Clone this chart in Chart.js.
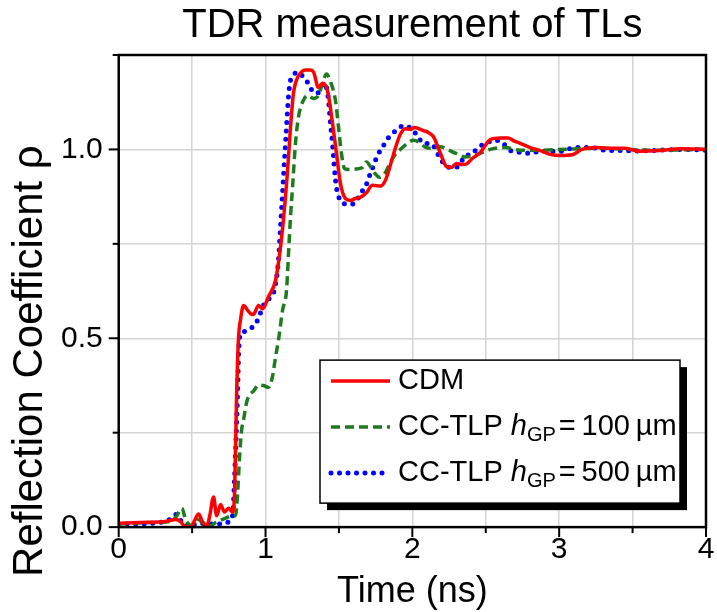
<!DOCTYPE html>
<html>
<head>
<meta charset="utf-8">
<script src="https://cdn.jsdelivr.net/npm/chart.js@4.4.1/dist/chart.umd.min.js"></script>
<style>
  html, body { margin: 0; padding: 0; background: #fff; }
  #wrap { width: 717px; height: 612px; }
</style>
</head>
<body>
<div id="wrap"><canvas id="chart" width="717" height="612"></canvas></div>
<script>
// ===================== DATA =====================
const seriesNames = ["CDM", "CC-TLP", "CC-TLP"];
const seriesSub = [null, "100", "500"];

const cdmTime = [0, 0.15, 0.32, 0.39, 0.42, 0.45, 0.49, 0.52, 0.544, 0.57, 0.6, 0.62, 0.646, 0.667, 0.694, 0.72, 0.748, 0.776,
  0.79, 0.803, 0.816, 0.83, 0.85, 0.878, 0.898, 0.918, 0.952, 0.98, 1.02, 1.068, 1.095, 1.116, 1.15, 1.17, 1.19, 1.218,
  1.245, 1.272, 1.306, 1.327, 1.36, 1.388, 1.422, 1.456, 1.483, 1.51, 1.544, 1.578, 1.612, 1.646, 1.687, 1.728, 1.782,
  1.816, 1.85, 1.884, 1.918, 1.952, 1.986, 2.014, 2.075, 2.109, 2.143, 2.17, 2.197, 2.231, 2.265, 2.3, 2.34, 2.374,
  2.408, 2.463, 2.531, 2.599, 2.653, 2.694, 2.735, 2.803, 2.871, 2.939, 3.007, 3.088, 3.156, 3.259, 3.361, 3.449,
  3.551, 3.687, 3.823, 4.0];
const cdmRho = [0.01, 0.012, 0.015, 0.02, 0.015, 0.002, 0.0, 0.02, 0.035, 0.015, 0.003, 0.03, 0.08, 0.03, 0.06, 0.04, 0.05, 0.04,
  0.1, 0.35, 0.5, 0.55, 0.587, 0.574, 0.565, 0.563, 0.587, 0.578, 0.61, 0.653, 0.72, 0.79, 0.944, 1.058, 1.148, 1.19,
  1.205, 1.21, 1.21, 1.205, 1.164, 1.175, 1.156, 1.07, 0.99, 0.91, 0.87, 0.865, 0.87, 0.873, 0.885, 0.905, 0.903,
  0.918, 0.958, 1.003, 1.04, 1.055, 1.053, 1.058, 1.05, 1.045, 1.034, 1.011, 0.984, 0.955, 0.952, 0.963, 0.96, 0.963,
  0.976, 0.992, 1.026, 1.03, 1.03, 1.022, 1.016, 1.005, 0.997, 0.987, 0.984, 0.986, 1.0, 1.005, 1.003, 1.003,
  0.995, 0.997, 1.002, 1.0];

const tlp100Time = [0, 0.218, 0.354, 0.395, 0.43, 0.456, 0.49, 0.524, 0.544, 0.578, 0.612, 0.66, 0.728, 0.776, 0.796, 0.81,
  0.823, 0.837, 0.85, 0.871, 0.891, 0.918, 0.952, 0.986, 1.02, 1.048, 1.068, 1.088, 1.116, 1.143, 1.156, 1.17, 1.184,
  1.204, 1.224, 1.252, 1.286, 1.327, 1.36, 1.388, 1.415, 1.442, 1.476, 1.497, 1.517, 1.537, 1.565, 1.612, 1.66, 1.687,
  1.714, 1.748, 1.776, 1.81, 1.844, 1.878, 1.918, 1.966, 2.007, 2.041, 2.088, 2.136, 2.19, 2.238, 2.293, 2.361, 2.429,
  2.531, 2.633, 2.735, 2.871, 3.007, 3.279, 3.619, 4.0];
const tlp100Rho = [0.008, 0.012, 0.015, 0.03, 0.05, 0.02, 0.005, 0.01, 0.02, 0.008, 0.002, 0.012, 0.024, 0.03, 0.03, 0.09,
  0.185, 0.257, 0.283, 0.33, 0.35, 0.36, 0.376, 0.375, 0.37, 0.4, 0.45, 0.495, 0.574, 0.627, 0.72, 0.82, 0.9,
  1.016, 1.085, 1.125, 1.143, 1.135, 1.143, 1.175, 1.2, 1.18, 1.13, 1.06, 0.99, 0.95, 0.947, 0.948, 0.952, 0.967,
  0.955, 0.935, 0.926, 0.935, 0.96, 0.984, 1.0, 1.016, 1.024, 1.02, 1.006, 1.003, 1.007, 1.0, 0.99, 0.98, 0.985,
  1.0, 1.005, 0.998, 0.998, 1.0, 1.003, 0.998, 1.0];

const tlp500Time = [0, 0.218, 0.32, 0.367, 0.395, 0.422, 0.442, 0.49, 0.558, 0.626, 0.694, 0.735, 0.762, 0.779, 0.789, 0.796,
  0.803, 0.81, 0.816, 0.823, 0.837, 0.864, 0.912, 0.946, 0.98, 1.007, 1.034, 1.061, 1.088, 1.102, 1.116, 1.129, 1.143,
  1.156, 1.17, 1.197, 1.224, 1.259, 1.3, 1.327, 1.36, 1.395, 1.415, 1.429, 1.442, 1.456, 1.469, 1.483, 1.503, 1.531,
  1.578, 1.612, 1.646, 1.68, 1.701, 1.728, 1.762, 1.796, 1.823, 1.864, 1.905, 1.939, 1.973, 2.007, 2.041, 2.075, 2.109,
  2.143, 2.17, 2.19, 2.224, 2.258, 2.293, 2.327, 2.361, 2.395, 2.449, 2.497, 2.565, 2.612, 2.667, 2.735, 2.803, 2.871,
  3.007, 3.109, 3.211, 3.313, 3.415, 3.551, 3.687, 3.823, 4.0];
const tlp500Rho = [0.008, 0.01, 0.016, 0.024, 0.034, 0.018, 0.003, 0.005, 0.01, 0.008, 0.008, 0.012, 0.018, 0.045, 0.13, 0.2,
  0.275, 0.36, 0.45, 0.5, 0.515, 0.519, 0.53, 0.548, 0.582, 0.6, 0.608, 0.63, 0.706, 0.794, 0.884, 0.97, 1.058,
  1.138, 1.183, 1.2, 1.204, 1.19, 1.17, 1.15, 1.15, 1.175, 1.164, 1.13, 1.07, 1.016, 0.95, 0.9, 0.87, 0.857,
  0.855, 0.858, 0.884, 0.9, 0.923, 0.95, 0.984, 1.005, 1.024, 1.042, 1.055, 1.063, 1.06, 1.05, 1.032, 1.016, 1.016,
  1.01, 0.99, 0.976, 0.958, 0.952, 0.952, 0.963, 0.984, 0.986, 1.005, 1.016, 1.024, 1.018, 0.997, 0.992, 0.99, 0.995,
  0.995, 1.005, 1.005, 0.998, 0.997, 0.996, 0.998, 1.0, 0.998];

const xTickLabels = ["0", "1", "2", "3", "4"];
const yTickLabels = ["0.0", "0.5", "1.0"];
const yTitle = "Reflection Coefficient \u03c1";

// ===================== STYLE =====================
const FONT = "'Liberation Sans', Arial, sans-serif";
const RED = "#ff0000";
const GREEN = "#1e7b1e";
const BLUE = "#0000ff";

function pts(t, r) {
  return t.map((v, i) => ({ x: v, y: r[i] }));
}

// ===================== PLUGIN: frame, ticks, y title, legend =====================
const decor = {
  id: "decor",
  afterDraw(chart) {
    const ctx = chart.ctx;
    const ca = chart.chartArea;
    const xs = chart.scales.x;
    const ys = chart.scales.y;

    ctx.save();
    // frame
    ctx.strokeStyle = "#000";
    ctx.lineWidth = 2.5;
    ctx.strokeRect(ca.left, ca.top, ca.right - ca.left, ca.bottom - ca.top);

    // ticks (major long, minor short)
    ctx.lineWidth = 2;
    for (let v = 0; v <= 4.001; v += 0.5) {
      const px = xs.getPixelForValue(v);
      const len = Math.abs(v - Math.round(v)) < 1e-6 ? 10 : 6;
      ctx.beginPath();
      ctx.moveTo(px, ca.bottom);
      ctx.lineTo(px, ca.bottom + len);
      ctx.stroke();
    }
    for (let v = 0; v <= 1.2501; v += 0.25) {
      const py = ys.getPixelForValue(v);
      const len = Math.abs(v * 2 - Math.round(v * 2)) < 1e-6 ? 10 : 6;
      ctx.beginPath();
      ctx.moveTo(ca.left, py);
      ctx.lineTo(ca.left - len, py);
      ctx.stroke();
    }

    // y axis title (sits low, like the original)
    ctx.save();
    ctx.translate(30, ca.bottom - 166);
    ctx.rotate(-Math.PI / 2);
    ctx.fillStyle = "#000";
    ctx.font = "42px " + FONT;
    ctx.textAlign = "center";
    ctx.textBaseline = "middle";
    ctx.fillText(yTitle, 0, 0);
    ctx.restore();

    // legend box with drop shadow
    const bx = ca.right - 386, by = ca.bottom - 167, bw = 360, bh = 143;
    ctx.fillStyle = "#000";
    ctx.fillRect(bx + 7, by + 7, bw, bh);
    ctx.fillStyle = "#fff";
    ctx.fillRect(bx, by, bw, bh);
    ctx.strokeStyle = "#000";
    ctx.lineWidth = 1.5;
    ctx.strokeRect(bx, by, bw, bh);

    const rows = [by + 21, by + 67, by + 113];
    chart.data.datasets.forEach((ds, i) => {
      const y = rows[i];
      ctx.strokeStyle = ds.borderColor;
      ctx.lineWidth = ds.borderWidth;
      ctx.lineCap = ds.borderCapStyle || "butt";
      ctx.setLineDash(ds.borderDash || []);
      ctx.beginPath();
      ctx.moveTo(bx + 11, y);
      ctx.lineTo(bx + 70, y);
      ctx.stroke();
      ctx.setLineDash([]);
      ctx.lineCap = "butt";

      ctx.fillStyle = "#000";
      ctx.textBaseline = "middle";
      ctx.textAlign = "left";
      let tx = bx + 78;
      ctx.font = "29px " + FONT;
      const main = seriesNames[i] + (seriesSub[i] ? " " : "");
      ctx.fillText(main, tx, y);
      tx += ctx.measureText(main).width;
      if (seriesSub[i]) {
        ctx.font = "italic 29px " + FONT;
        ctx.fillText("h", tx, y);
        tx += ctx.measureText("h").width;
        ctx.font = "20px " + FONT;
        ctx.fillText("GP", tx, y + 8);
        tx += ctx.measureText("GP").width + 3;
        ctx.font = "29px " + FONT;
        ctx.fillText("=\u2009" + seriesSub[i] + "\u2009\u00b5m", tx, y);
      }
    });
    ctx.restore();
  }
};

// ===================== CHART =====================
const chart = new Chart(document.getElementById("chart"), {
  type: "line",
  data: {
    datasets: [
      {
        label: "CDM",
        data: pts(cdmTime, cdmRho),
        borderColor: RED,
        borderWidth: 3.5,
        pointRadius: 0,
        cubicInterpolationMode: "monotone"
      },
      {
        label: "CC-TLP 100",
        data: pts(tlp100Time, tlp100Rho),
        borderColor: GREEN,
        borderWidth: 3.5,
        borderDash: [9, 5],
        pointRadius: 0,
        cubicInterpolationMode: "monotone"
      },
      {
        label: "CC-TLP 500",
        data: pts(tlp500Time, tlp500Rho),
        borderColor: BLUE,
        borderWidth: 5,
        borderDash: [0, 8.5],
        borderCapStyle: "round",
        pointRadius: 0,
        cubicInterpolationMode: "monotone"
      }
    ]
  },
  options: {
    responsive: false,
    animation: false,
    layout: { padding: { left: 45, right: 11, top: 0, bottom: 0 } },
    plugins: {
      legend: { display: false },
      tooltip: { enabled: false },
      title: {
        display: true,
        fullSize: false,
        text: "TDR measurement of TLs",
        color: "#000",
        font: { family: FONT, size: 40, weight: "normal", lineHeight: 1.2 },
        padding: { top: 2, bottom: 5 }
      }
    },
    scales: {
      x: {
        type: "linear",
        min: 0,
        max: 4,
        afterFit: s => { s.paddingRight = 0; },
        ticks: {
          stepSize: 0.5,
          color: "#000",
          font: { family: FONT, size: 30, lineHeight: 1.0 },
          padding: 8,
          maxRotation: 0,
          autoSkip: false,
          callback: v => Number.isInteger(v) ? xTickLabels[v] : ""
        },
        grid: { color: "#d4d4d4", lineWidth: 1.5, drawTicks: false },
        border: { display: false },
        title: {
          display: true,
          text: "Time (ns)",
          color: "#000",
          font: { family: FONT, size: 36, lineHeight: 1.08 },
          padding: { top: 0, bottom: 0 }
        }
      },
      y: {
        type: "linear",
        min: 0,
        max: 1.25,
        ticks: {
          stepSize: 0.25,
          color: "#000",
          font: { family: FONT, size: 30 },
          padding: 16,
          autoSkip: false,
          callback: v => {
            const k = Math.round(v * 2);
            return Math.abs(v * 2 - k) < 1e-6 && yTickLabels[k] ? yTickLabels[k] : "";
          }
        },
        grid: { color: "#d4d4d4", lineWidth: 1.5, drawTicks: false },
        border: { display: false }
      }
    }
  },
  plugins: [decor]
});
</script>
</body>
</html>
